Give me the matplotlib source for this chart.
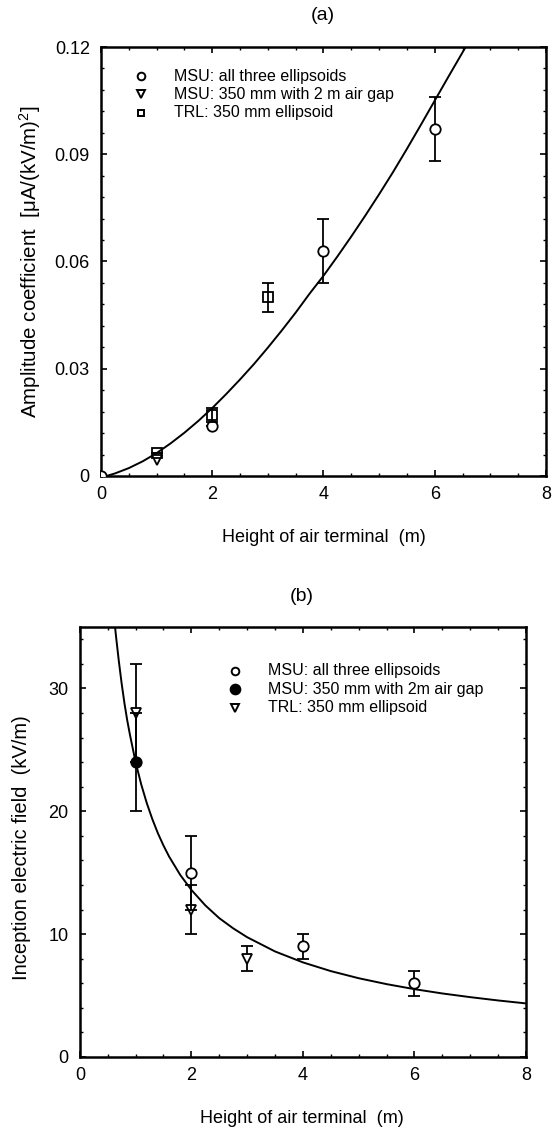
import numpy as np
import matplotlib.pyplot as plt
from matplotlib.ticker import MultipleLocator

plt.rcParams['font.family'] = ['Liberation Sans', 'DejaVu Sans']
plt.rcParams['mathtext.fontset'] = 'custom'
plt.rcParams['mathtext.rm'] = 'Liberation Sans'
plt.rcParams['mathtext.it'] = 'Liberation Sans'

# ---- panel (a): amplitude coefficient ----
a_msu_x = [0, 2, 4, 6]
a_msu_y = [0.0, 0.014, 0.063, 0.097]
a_msu_err = [0.0, 0.0, 0.009, 0.009]

a_gap_x = [1]
a_gap_y = [0.0045]

a_trl_x = [1, 2, 3]
a_trl_y = [0.0065, 0.017, 0.050]
a_trl_err = [0.0, 0.002, 0.004]

a_fit_x = [0.1, 0.25, 0.5, 0.75, 1, 1.25, 1.5, 1.75, 2, 2.25, 2.5, 2.75, 3,
           3.25, 3.5, 3.75, 4, 4.25, 4.5, 4.75, 5, 5.25, 5.5, 5.75, 6, 6.25,
           6.5, 6.6]
a_fit_y = [0.0, 0.0007, 0.0022, 0.0041, 0.0064, 0.0091, 0.0121, 0.0154, 0.0190,
           0.0229, 0.0270, 0.0313, 0.0359, 0.0407, 0.0457, 0.0510, 0.0560,
           0.0614, 0.0670, 0.0728, 0.0788, 0.0850, 0.0915, 0.0982, 0.1050,
           0.1118, 0.1185, 0.1212]
a_labels = ['MSU: all three ellipsoids', 'MSU: 350 mm with 2 m air gap',
            'TRL: 350 mm ellipsoid']

# ---- panel (b): inception electric field ----
b_msu_x = [2, 4, 6]
b_msu_y = [15, 9, 6]
b_msu_err = [3, 1, 1]

b_gap_x = [1]
b_gap_y = [24]
b_gap_err = [4]

b_trl_x = [1, 2, 3]
b_trl_y = [28, 12, 8]
b_trl_err = [4, 2, 1]

b_fit_x = [0.6, 0.62, 0.65, 0.7, 0.75, 0.8, 0.85, 0.9, 1, 1.1, 1.2, 1.3, 1.4,
           1.5, 1.6, 1.8, 2, 2.25, 2.5, 2.75, 3, 3.5, 4, 4.5, 5, 5.5, 6, 6.5,
           7, 7.5, 8]
b_fit_y = [36.5, 35.5, 34.2, 32.2, 30.4, 28.8, 27.4, 26.2, 24.0, 22.2, 20.67,
           19.36, 18.21, 17.21, 16.32, 14.82, 13.6, 12.34, 11.3, 10.47, 9.75,
           8.59, 7.70, 6.99, 6.41, 5.93, 5.52, 5.17, 4.87, 4.60, 4.36]
b_labels = ['MSU: all three ellipsoids', 'MSU: 350 mm with 2m air gap',
            'TRL: 350 mm ellipsoid']

fig = plt.figure(figsize=(5.57, 11.33), dpi=100)
ax1 = fig.add_axes([0.1813, 0.5799, 0.7989, 0.3786])
ax2 = fig.add_axes([0.1433, 0.0671, 0.8011, 0.3795])

err_kw = dict(ecolor='black', elinewidth=1.3, capsize=4, capthick=1.3, linestyle='none')
mk_kw = dict(markersize=7.5, markeredgewidth=1.3, markeredgecolor='black')
TICK_FS = 13
LABEL_FS = 13


def style_axes(ax):
    for s in ax.spines.values():
        s.set_linewidth(1.8)
    ax.tick_params(which='both', direction='in', top=True, right=True,
                   labelsize=TICK_FS)
    ax.tick_params(axis='x', pad=7)
    ax.tick_params(axis='y', pad=8)
    ax.tick_params(which='major', length=4, width=1.2)
    ax.tick_params(which='minor', length=2.5, width=1.0)


def key(ax, xm, xt, ys, markers, faces, labels, sizes):
    # hand-placed legend rows
    for y, m, fc, lab, ms in zip(ys, markers, faces, labels, sizes):
        ax.plot([xm], [y], marker=m, markerfacecolor=fc, markeredgecolor='black',
                markeredgewidth=1.4, markersize=ms, linestyle='none',
                transform=ax.transAxes, clip_on=False)
        ax.text(xt, y, lab, transform=ax.transAxes, fontsize=11.5,
                va='center', ha='left')


# panel (a)
ax1.plot(a_fit_x, a_fit_y, color='black', linewidth=1.4, zorder=2)
ax1.errorbar(a_msu_x, a_msu_y, yerr=a_msu_err, marker='o',
             markerfacecolor='white', zorder=3, **mk_kw, **err_kw)
ax1.errorbar(a_gap_x, a_gap_y, marker='v', markerfacecolor='white', zorder=3,
             **mk_kw, **err_kw)
ax1.errorbar(a_trl_x, a_trl_y, yerr=a_trl_err, marker='s',
             markerfacecolor='none', zorder=4, **mk_kw, **err_kw)
ax1.set_xlim(0, 8)
ax1.set_ylim(0, 0.12)
ax1.xaxis.set_major_locator(MultipleLocator(2))
ax1.xaxis.set_minor_locator(MultipleLocator(0.5))
ax1.yaxis.set_minor_locator(MultipleLocator(0.006))
ax1.set_yticks([0, 0.03, 0.06, 0.09, 0.12])
ax1.set_yticklabels(['0', '0.03', '0.06', '0.09', '0.12'])
style_axes(ax1)
ax1.set_xlabel('Height of air terminal  (m)', fontsize=LABEL_FS, va='center')
ax1.xaxis.set_label_coords(0.50, -0.1445)
ax1.set_ylabel(r'Amplitude coefficient  [$\mu$A/(kV/m)$^2$]', fontsize=14.8,
               va='center')
ax1.yaxis.set_label_coords(-0.1596, 0.50)
fig.text(0.5794, 0.9859, '(a)', fontsize=14, ha='center', va='center')
key(ax1, 0.09, 0.1635, [0.9324, 0.8898, 0.8469], ['o', 'v', 's'],
    ['white', 'white', 'white'], a_labels, [5.5, 5.5, 5])

# panel (b)
ax2.plot(b_fit_x, b_fit_y, color='black', linewidth=1.4, zorder=2)
ax2.errorbar(b_trl_x, b_trl_y, yerr=b_trl_err, marker='v',
             markerfacecolor='white', zorder=3, **mk_kw, **err_kw)
ax2.errorbar(b_msu_x, b_msu_y, yerr=b_msu_err, marker='o',
             markerfacecolor='white', zorder=4, **mk_kw, **err_kw)
ax2.errorbar(b_gap_x, b_gap_y, yerr=b_gap_err, marker='o',
             markerfacecolor='black', zorder=4, **mk_kw, **err_kw)
ax2.set_xlim(0, 8)
ax2.set_ylim(0, 35)
ax2.xaxis.set_major_locator(MultipleLocator(2))
ax2.xaxis.set_minor_locator(MultipleLocator(0.5))
ax2.yaxis.set_major_locator(MultipleLocator(10))
ax2.yaxis.set_minor_locator(MultipleLocator(2))
style_axes(ax2)
ax2.set_xlabel('Height of air terminal  (m)', fontsize=LABEL_FS, va='center')
ax2.xaxis.set_label_coords(0.498, -0.1423)
ax2.set_ylabel('Inception electric field  (kV/m)', fontsize=14.5, va='center')
ax2.yaxis.set_label_coords(-0.130, 0.486)
fig.text(0.5417, 0.4733, '(b)', fontsize=14, ha='center', va='center')
key(ax2, 0.3485, 0.4216, [0.8977, 0.8551, 0.8123], ['o', 'o', 'v'],
    ['white', 'black', 'white'], b_labels, [5.5, 7, 5.5])

fig.savefig('out.png', dpi=100)
